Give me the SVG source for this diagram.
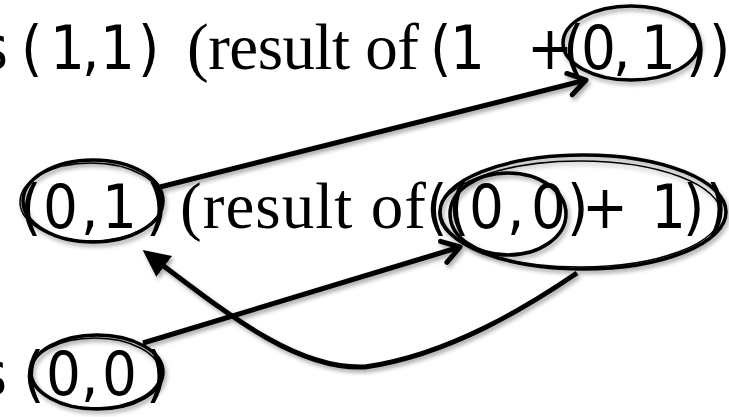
<svg xmlns="http://www.w3.org/2000/svg" width="729" height="417" viewBox="0 0 729 417">
  <defs>
    <style>
      .sans { font-family: "DejaVu Sans Condensed", "DejaVu Sans", "Liberation Sans", sans-serif; font-size: 61px; fill: #000; }
      .serif { font-family: "Liberation Serif", "Times New Roman", serif; font-size: 65px; fill: #000; }
      .ring { fill: none; stroke: #000; stroke-width: 3.5; }
      .ring2 { fill: none; stroke: #000; stroke-width: 1.5; }
      .conn { fill: none; stroke: #000; stroke-width: 5; }
    </style>
    <filter id="sh" x="-20%" y="-20%" width="140%" height="140%">
      <feDropShadow dx="2" dy="3" stdDeviation="2" flood-color="#000" flood-opacity="0.35"/>
    </filter>
    <marker id="open" viewBox="-22 -14 26 28" markerWidth="26" markerHeight="28" refX="0" refY="0" orient="auto" markerUnits="userSpaceOnUse">
      <path d="M-17,-11 L0,0 L-17,11" fill="none" stroke="#000" stroke-width="5" stroke-linecap="round" stroke-linejoin="round"/>
    </marker>
    <marker id="solid" viewBox="0 -14 28 28" markerWidth="28" markerHeight="28" refX="4" refY="0" orient="auto" markerUnits="userSpaceOnUse">
      <path d="M0,-13 L27,0 L0,13 Z" fill="#000"/>
    </marker>
  </defs>
  <rect width="729" height="417" fill="#fff"/>

  <g id="line1">
    <text class="sans" x="8" y="69" text-anchor="end">s</text>
    <text class="sans" x="21 50 82 100 138" y="69">(1,1)</text>
    <text class="serif" x="187" y="69" textLength="232" lengthAdjust="spacing">(result of</text>
    <text class="sans" x="430 450" y="69">(1</text>
    <text class="sans" x="527" y="69">+</text>
    <text class="sans" x="563 581 613 641 686 709" y="69">(0,1))</text>
  </g>
  <g id="line2">
    <text class="sans" x="20 43 81 102 146" y="228">(0,1)</text>
    <text class="serif" x="180" y="228" textLength="246" lengthAdjust="spacing">(result of</text>
    <text class="sans" x="426 448 469 507 531 567" y="228">((0,0)</text>
    <text class="sans" x="582" y="228">+</text>
    <text class="sans" x="651 683 706" y="228">1))</text>
  </g>
  <g id="line3">
    <text class="sans" x="7" y="395" text-anchor="end">s</text>
    <text class="sans" x="23 46 81 102 146" y="395">(0,0)</text>
  </g>

  <g id="node-01-top" filter="url(#sh)">
    <ellipse class="ring" cx="631" cy="43" rx="68" ry="37"/>
  </g>
  <g id="node-01-mid" filter="url(#sh)">
    <ellipse class="ring" cx="93" cy="201" rx="70" ry="41"/>
    <ellipse class="ring2" cx="91" cy="202" rx="71" ry="39"/>
  </g>
  <g id="node-00-sum" filter="url(#sh)">
    <ellipse class="ring" cx="583" cy="212" rx="143" ry="57"/>
    <ellipse class="ring2" cx="580" cy="214" rx="141" ry="53"/>
  </g>
  <g id="node-00-mid" filter="url(#sh)">
    <ellipse class="ring" cx="508" cy="214" rx="58" ry="41"/>
  </g>
  <g id="node-00-bot" filter="url(#sh)">
    <ellipse class="ring" cx="97" cy="372" rx="66" ry="37"/>
    <ellipse class="ring2" cx="95" cy="373" rx="65" ry="35"/>
  </g>

  <g id="connectors" filter="url(#sh)">
    <line class="conn" x1="160" y1="187" x2="586" y2="80" marker-end="url(#open)"/>
    <line class="conn" x1="143" y1="343" x2="460" y2="247" marker-end="url(#open)"/>
    <path class="conn" d="M577,273 C530,305 450,355 365,367 C300,370 235,320 161,264" marker-end="url(#solid)"/>
  </g>
</svg>
